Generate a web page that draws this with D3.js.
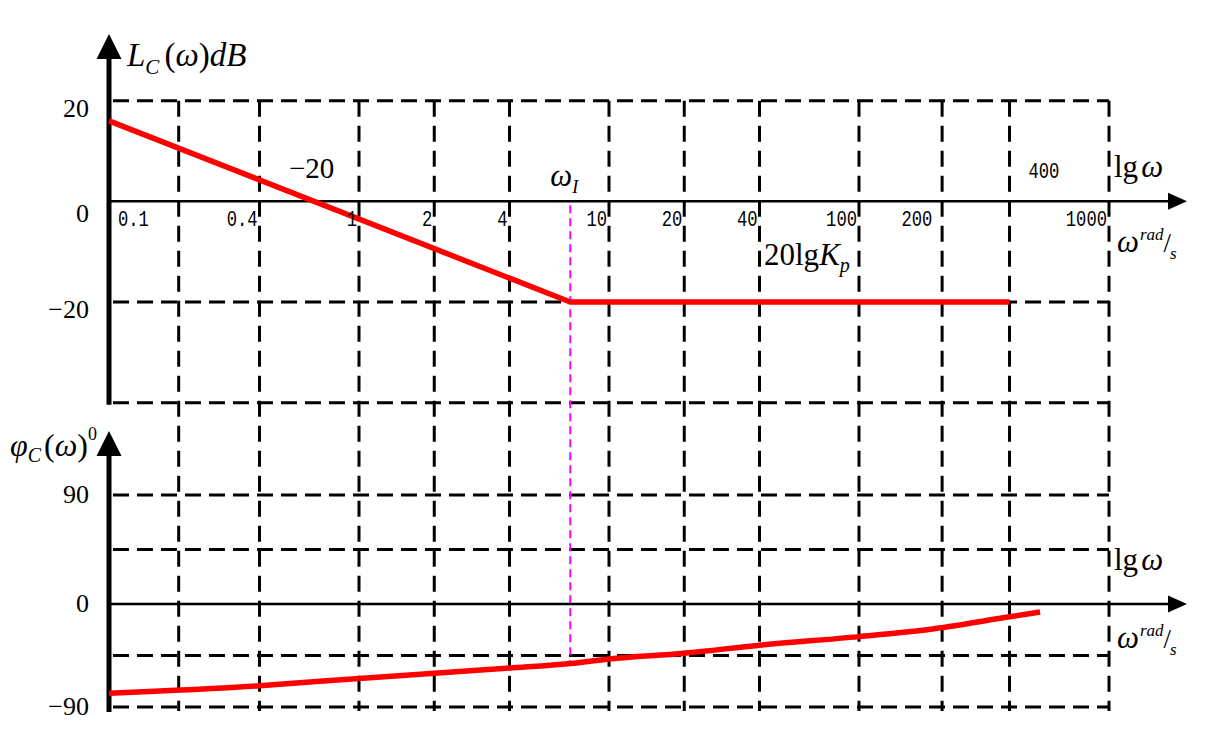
<!DOCTYPE html>
<html><head><meta charset="utf-8">
<script src="https://cdn.jsdelivr.net/npm/d3@7"></script>
<style>body{margin:0;background:#fff} svg{display:block}</style>
</head><body><svg id="c" width="1212" height="746"></svg>
<script>
// ---- data ----
const gridOmega = [0.19, 0.4, 1, 2, 4, 10, 20, 40, 100, 215, 400, 1000];
const tickOmega = [0.1, 0.4, 1, 2, 4, 10, 20, 40, 100, 200, 1000];
const tickText  = ["0.1", "0.4", "1", "2", "4", "10", "20", "40", "100", "200", "1000"];
const magGrid = [20, -20, -40];
const magTicks = [20, 0, -20];
const magTickText = ["20", "0", "\u221220"];
const phaseGrid = [90, 45, -45, -90];
const phaseTicks = [90, 0, -90];
const phaseTickText = ["90", "0", "\u221290"];
const omegaI = 7;
const magOmega  = [0.1, 7, 400];
const magValues = [16, -20, -20];
const phaseOmega  = [0.1, 0.4, 1, 2, 4, 7, 10, 20, 40, 100, 200, 400, 530];
const phaseValues = [-78, -71.4, -65, -60.6, -56, -52, -48, -43, -36, -28.5, -21.6, -11.2, -7];
const phaseAtOmegaI = -52;

// ---- scales ----
const svg = d3.select("#c");
const x = d3.scaleLog().domain([0.1, 1000]).range([109, 1109]);
const yMag = d3.scaleLinear().domain([-40, 20]).range([402.7, 100.7]);
const yPh = d3.scaleLinear().domain([-90, 0, 90]).range([707, 604, 495]);
const xL = x(0.1), xR = x(1000);
const serif = "'Liberation Serif','Times New Roman',serif";
const mono = "'Liberation Mono','Courier New',monospace";

const dash = "16,8";
// horizontal gridlines
svg.append("g").selectAll("line").data(magGrid).join("line")
  .attr("x1", xL).attr("x2", xR).attr("y1", d => yMag(d)).attr("y2", d => yMag(d))
  .attr("stroke", "#000").attr("stroke-width", 3).attr("stroke-dasharray", dash).attr("stroke-dashoffset", -4);
svg.append("g").selectAll("line").data(phaseGrid).join("line")
  .attr("x1", xL).attr("x2", xR).attr("y1", d => yPh(d)).attr("y2", d => yPh(d))
  .attr("stroke", "#000").attr("stroke-width", 3).attr("stroke-dasharray", dash).attr("stroke-dashoffset", -4);
// vertical gridlines
svg.append("g").selectAll("line").data(gridOmega).join("line")
  .attr("x1", d => x(d)).attr("x2", d => x(d)).attr("y1", yMag(20)).attr("y2", yPh(-90) + 4)
  .attr("stroke", "#000").attr("stroke-width", 3).attr("stroke-dasharray", "16,9");

// magenta omega_I line
svg.append("line").attr("x1", x(omegaI)).attr("x2", x(omegaI))
  .attr("y1", yMag(0) + 4).attr("y2", yPh(phaseAtOmegaI) + 2)
  .attr("stroke", "#ff00ff").attr("stroke-width", 2).attr("stroke-dasharray", "8,5");

// axes
function vAxis(yTop, yBot) {
  svg.append("line").attr("x1", xL).attr("x2", xL).attr("y1", yTop + 20).attr("y2", yBot)
    .attr("stroke", "#000").attr("stroke-width", 5);
  svg.append("path").attr("d", `M${xL},${yTop} L${xL - 12.5},${yTop + 25} L${xL + 12.5},${yTop + 25} Z`).attr("fill", "#000");
}
function hAxis(y0) {
  svg.append("line").attr("x1", xL).attr("x2", 1170).attr("y1", y0).attr("y2", y0)
    .attr("stroke", "#000").attr("stroke-width", 2.5);
  svg.append("path").attr("d", `M1187,${y0} L1168,${y0 - 8.5} L1168,${y0 + 8.5} Z`).attr("fill", "#000");
}
vAxis(34, yMag(-40) + 2);
vAxis(431, yPh(-90) + 5);
hAxis(yMag(0));
hAxis(yPh(0));

// red lines
const magLine = d3.line().x((d, i) => x(magOmega[i])).y(d => yMag(d));
svg.append("path").attr("d", magLine(magValues)).attr("fill", "none")
  .attr("stroke", "#ff0000").attr("stroke-width", 5.5).attr("stroke-linejoin", "round");
const phLine = d3.line().x((d, i) => x(phaseOmega[i])).y(d => yPh(d)).curve(d3.curveMonotoneX);
svg.append("path").attr("d", phLine(phaseValues)).attr("fill", "none")
  .attr("stroke", "#ff0000").attr("stroke-width", 5.5);

// x tick labels (top panel), narrow thin digits
const sx = 0.78;
svg.append("g").selectAll("text").data(tickOmega).join("text")
  .attr("transform", (d, i) => `translate(${i === 0 ? x(d) + 9 : x(d) - 2},${yMag(0) + 25}) scale(${sx},1)`)
  .attr("text-anchor", (d, i) => i === 0 ? "start" : "end")
  .attr("font-family", mono).attr("font-size", 22).attr("fill", "#000")
  .text((d, i) => tickText[i]);
svg.append("text").attr("transform", `translate(${x(400) + 19},${yMag(0) - 23}) scale(${sx},1)`)
  .attr("font-family", mono).attr("font-size", 22).text("400");

// y tick labels
svg.append("g").selectAll("text").data(magTicks).join("text")
  .attr("x", 89).attr("y", d => yMag(d) + (d === 0 ? 21 : 16)).attr("text-anchor", "end")
  .attr("font-family", serif).attr("font-size", 26).text((d, i) => magTickText[i]);
svg.append("g").selectAll("text").data(phaseTicks).join("text")
  .attr("x", 89).attr("y", d => yPh(d) + 8).attr("text-anchor", "end")
  .attr("font-family", serif).attr("font-size", 26).text((d, i) => phaseTickText[i]);

// axis titles
const t1 = svg.append("text").attr("x", 127).attr("y", 66).attr("font-family", serif).attr("font-size", 33);
t1.append("tspan").attr("font-style", "italic").text("L");
t1.append("tspan").attr("font-style", "italic").attr("font-size", 21).attr("dy", 8).text("C");
t1.append("tspan").attr("dy", -8).attr("dx", 5).text("(");
t1.append("tspan").attr("font-style", "italic").text("\u03c9");
t1.append("tspan").text(")");
t1.append("tspan").attr("font-style", "italic").text("dB");

const t2 = svg.append("text").attr("x", 10).attr("y", 456).attr("font-family", serif).attr("font-size", 32);
t2.append("tspan").attr("font-style", "italic").text("\u03c6");
t2.append("tspan").attr("font-style", "italic").attr("font-size", 20).attr("dy", 6).text("C");
t2.append("tspan").attr("dy", -6).attr("dx", 3).text("(");
t2.append("tspan").attr("font-style", "italic").text("\u03c9");
t2.append("tspan").text(")");
t2.append("tspan").attr("font-size", 18).attr("dy", -16).text("0");

function lgw(y0) {
  const t = svg.append("text").attr("x", 1114).attr("y", y0).attr("font-family", serif).attr("font-size", 31);
  t.append("tspan").text("lg");
  t.append("tspan").attr("font-style", "italic").attr("dx", 3).text("\u03c9");
}
function wrad(y0) {
  const t = svg.append("text").attr("x", 1117).attr("y", y0).attr("font-family", serif).attr("font-size", 31);
  t.append("tspan").attr("font-style", "italic").text("\u03c9");
  t.append("tspan").attr("font-style", "italic").attr("font-size", 17).attr("dy", -12).attr("dx", 1).text("rad");
  t.append("tspan").attr("font-size", 27).attr("dy", 12).attr("dx", 0).text("/");
  t.append("tspan").attr("font-style", "italic").attr("font-size", 17).attr("dy", 7).attr("dx", -1).text("s");
}
lgw(yMag(0) - 24);
wrad(yMag(0) + 51);
lgw(yPh(0) - 34);
wrad(yPh(0) + 44);

// annotations
svg.append("text").attr("x", 289).attr("y", 178).attr("font-family", serif).attr("font-size", 29).text("\u221220");
const tw = svg.append("text").attr("x", x(omegaI) - 20).attr("y", yMag(0) - 15).attr("font-family", serif).attr("font-size", 31);
tw.append("tspan").attr("font-style", "italic").text("\u03c9");
tw.append("tspan").attr("font-style", "italic").attr("font-size", 18).attr("dy", 7).text("I");
const tk = svg.append("text").attr("x", 764).attr("y", yMag(0) + 64).attr("font-family", serif).attr("font-size", 31);
tk.append("tspan").text("20lg");
tk.append("tspan").attr("font-style", "italic").text("K");
tk.append("tspan").attr("font-style", "italic").attr("font-size", 20).attr("dy", 7).text("p");
</script></body></html>
